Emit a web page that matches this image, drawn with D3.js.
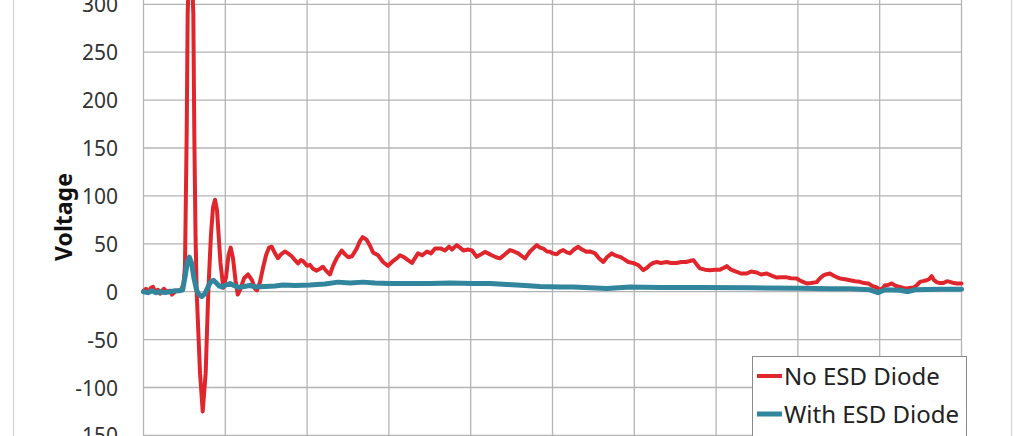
<!DOCTYPE html>
<html>
<head>
<meta charset="utf-8">
<script src="https://cdn.jsdelivr.net/npm/d3@7/dist/d3.min.js"></script>
<style>
  html, body { margin: 0; padding: 0; background: #fff; }
  svg { display: block; }
</style>
</head>
<body>
<svg id="chart" width="1024" height="436"></svg>
<script>
// ---------- DATA ----------
const yTicks = [-150, -100, -50, 0, 50, 100, 150, 200, 250, 300];
const xTicks = [0, 10, 20, 30, 40, 50, 60, 70, 80, 90, 100];
const seriesNames = ["No ESD Diode", "With ESD Diode"];

const noEsdTime = [0,0.31,0.55,0.92,1.16,1.41,1.77,2.02,2.26,2.51,2.87,3.24,3.48,3.85,4.22,4.58,4.89,5.07,5.28,5.40,5.56,5.75,5.93,6.09,6.21,6.36,6.50,6.91,7.24,7.60,7.92,8.25,8.50,8.74,8.99,9.14,9.41,9.76,10.09,10.39,10.66,10.94,11.25,11.52,11.80,12.29,12.78,13.26,13.63,13.88,14.24,14.61,14.98,15.34,15.67,16.08,16.44,16.81,17.30,17.67,18.12,18.52,18.89,19.25,19.50,19.99,20.35,20.72,21.17,21.58,21.94,22.31,22.80,23.17,23.62,24.23,24.63,25.04,25.49,26.06,26.47,26.80,27.29,27.69,28.06,28.67,29.28,29.89,30.50,30.99,31.36,31.85,32.33,32.82,33.19,33.56,34.05,34.66,35.15,35.64,36.37,36.86,37.35,37.71,38.29,38.69,39.10,39.67,40.16,40.73,41.26,41.75,42.12,42.57,43.09,43.58,44.19,44.80,45.29,45.82,46.27,46.64,47.25,48.07,48.47,48.88,49.33,49.69,50.06,50.51,50.92,51.32,51.77,52.14,52.63,53.15,53.61,54.18,54.58,55.20,55.68,56.21,56.66,57.24,57.64,58.25,58.74,59.27,59.84,60.49,61.10,61.55,61.92,62.29,62.74,63.26,63.96,64.49,65.18,65.71,66.32,66.81,67.21,67.67,68.03,68.64,69.25,69.86,70.48,70.97,71.30,71.82,72.52,73.04,73.74,74.27,74.96,75.49,76.19,76.71,77.41,77.93,78.63,79.16,79.85,80.38,81.08,81.60,82.30,82.70,83.11,83.52,83.92,84.33,84.78,85.15,85.76,86.37,86.98,87.59,88.08,88.61,89.06,89.63,90.04,90.40,90.65,91.01,91.47,91.99,92.48,92.85,93.30,93.70,94.11,94.56,94.93,95.29,95.75,96.03,96.36,96.64,96.97,97.37,97.78,98.23,98.59,99.08,99.41,100];
const noEsdVolt = [1,3,-1,4,5,0,2,-2,1,3,0,1,-3,0,1,2,8,26,165,290,335,345,330,290,165,60,0,-85,-125,-85,0,60,88,96,85,65,30,4,15,38,46,35,12,-3,2,14,18,12,3,1.5,10,25,38,46,47,40,35,39,42,40,37,33,29.5,33,32,27,28,24,22,24,26,22,18,27,35,43,39,36,37,45,53,57,54,48,41,38,31,27,32,35,38,36,33,30,35,40,38,42,40,45,45,43,47,44,48.6,46,43,44,43,36.4,39,41.6,40,38,36,34.8,39,43.4,42,40,37,34.7,42,48.6,46,45,42,41.6,40,39,42,43.4,41,40,44,46.9,44,41.6,42,40,35,31,36,40,38,36.4,34,31,30,27.7,22.5,25,28,30,31,30,31,30,30,31,31,32,33,28,24.3,23,22.5,23,23,25,26.7,23,20.7,19,19,21,20,18,19,17,14.8,15,15,14,13.8,11,8.6,9,10,14,17,18.3,19,17,15,13.8,13,12,11,10.3,9,8.6,6,4.4,2,4,6.8,7,8.6,6,5,4,3.3,4,4,7,10.3,11,12,13,16.2,12,10,9,9,11,10.3,9,8.6,8.6];

const withEsdTime = [0,0.55,1.04,1.53,2.02,2.63,3.24,3.85,4.46,4.79,5.13,5.38,5.60,5.87,6.17,6.48,6.78,7.11,7.52,7.89,8.19,8.53,8.92,9.23,9.56,9.96,10.57,11.06,11.59,12.29,13.02,13.63,14.85,16.08,17.05,18.52,20.35,22.19,23.78,25.25,26.84,28.30,30.13,32.58,35.02,37.47,40.28,42.36,44.44,46.64,48.47,50.92,52.51,54.59,56.66,59.48,63.14,68.03,74.14,80.26,83.92,86.37,88.81,89.79,90.65,92.48,93.46,94.32,97.37,100];
const withEsdVolt = [0,-1,1,-1,0,-1,0,1,1,2,18,32,36,30,14,2,-3,-5,-2,5,10,12,9,6,5,6.5,8.6,6.5,4.5,5.5,6.5,5,5.5,6,7,6.5,7,8,10,9,10,9,8.5,8.5,8.5,9,8.6,8.5,7.5,6.5,5.4,5,5,4,3.3,5,4.5,4.5,4,3.5,3,3,2,-1,2,1.5,0,2,2.5,2.5];

// ---------- LAYOUT ----------
const svg = d3.select("#chart");
const plot = { left: 143.5, right: 961.5 };
const x = d3.scaleLinear().domain([0, 100]).range([plot.left, plot.right]);
const y = d3.scaleLinear().domain([-200, 350]).range([291.7 + 200 * 0.958, 291.7 - 350 * 0.958]);

const gridColor = "#b4b4b4";
const font = "'Noto Sans', 'Open Sans', sans-serif";

// chart-area border lines
svg.append("line").attr("x1", 13.5).attr("x2", 13.5).attr("y1", 0).attr("y2", 436)
  .attr("stroke", "#d4d4d4").attr("stroke-width", 1.2);
svg.append("line").attr("x1", 1011.5).attr("x2", 1011.5).attr("y1", 0).attr("y2", 436)
  .attr("stroke", "#d4d4d4").attr("stroke-width", 1.2);

// horizontal grid
svg.append("g").selectAll("line").data(yTicks).join("line")
  .attr("x1", plot.left).attr("x2", plot.right)
  .attr("y1", d => y(d)).attr("y2", d => y(d))
  .attr("stroke", gridColor).attr("stroke-width", 1.3);

// vertical grid
svg.append("g").selectAll("line").data(xTicks).join("line")
  .attr("x1", d => x(d)).attr("x2", d => x(d))
  .attr("y1", y(350)).attr("y2", y(-200))
  .attr("stroke", gridColor).attr("stroke-width", 1.3);

// y axis labels via d3 axis (plain hyphen-minus like the reference)
const yAxis = d3.axisLeft(y).tickValues(yTicks).tickSize(0).tickPadding(25.5)
  .tickFormat(d => String(d));
const gA = svg.append("g").attr("transform", `translate(${plot.left},0)`).call(yAxis);
gA.select(".domain").remove();
gA.selectAll("text").attr("font-family", font).attr("font-size", 21)
  .attr("fill", "#333").attr("dy", "0.36em");

// axis title
svg.append("text")
  .attr("transform", "translate(72,217) rotate(-90)")
  .attr("text-anchor", "middle")
  .attr("font-family", font).attr("font-weight", "bold").attr("font-size", 23)
  .attr("fill", "#111").text("Voltage");

// lines
const lineGen = d3.line().x(d => x(d[0])).y(d => y(d[1]));
const noEsd = noEsdTime.map((t, i) => [t, noEsdVolt[i]]);
const withEsd = withEsdTime.map((t, i) => [t, withEsdVolt[i]]);
const colors = ["#e0262c", "#31859c"];

svg.append("path").datum(noEsd).attr("d", lineGen)
  .attr("fill", "none").attr("stroke", colors[0]).attr("stroke-width", 4)
  .attr("stroke-linejoin", "round").attr("stroke-linecap", "round");
svg.append("path").datum(withEsd).attr("d", lineGen)
  .attr("fill", "none").attr("stroke", colors[1]).attr("stroke-width", 5)
  .attr("stroke-linejoin", "round").attr("stroke-linecap", "round");

// legend
const lg = svg.append("g");
lg.append("rect").attr("x", 752.5).attr("y", 356.5).attr("width", 214).attr("height", 110)
  .attr("fill", "#fff").attr("stroke", "#8a8a8a").attr("stroke-width", 1);
const legendRows = [385, 423];
seriesNames.forEach((name, i) => {
  lg.append("line").attr("x1", 757).attr("x2", 782)
    .attr("y1", legendRows[i] - 9).attr("y2", legendRows[i] - 9)
    .attr("stroke", colors[i]).attr("stroke-width", i === 0 ? 4 : 5);
  lg.append("text").attr("x", 784).attr("y", legendRows[i])
    .attr("font-family", font).attr("font-size", 24).attr("fill", "#222")
    .text(name);
});
</script>
</body>
</html>
